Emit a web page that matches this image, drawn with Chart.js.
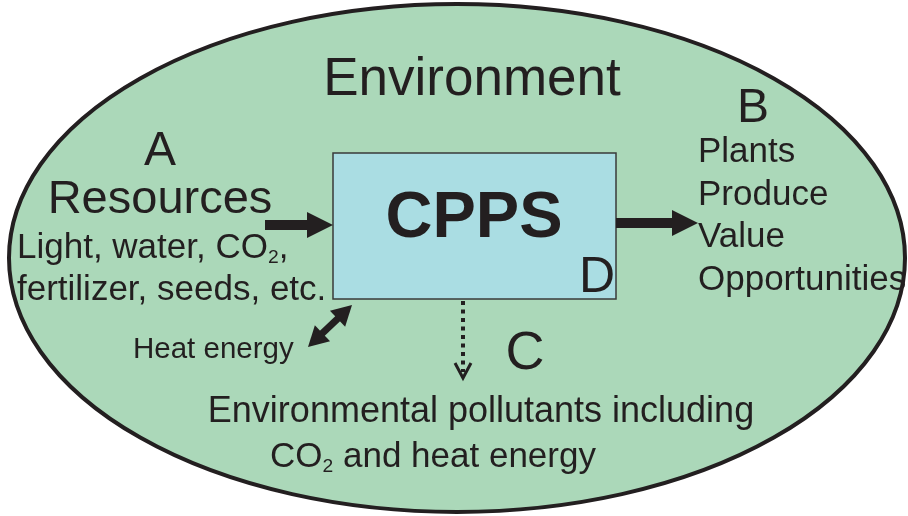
<!DOCTYPE html>
<html lang="en">
<head>
  <meta charset="UTF-8">
  <title>CPPS and its environment</title>
  <script src="https://cdn.jsdelivr.net/npm/chart.js"></script>
  <style>
    html, body {
      margin: 0;
      padding: 0;
      background: #fff;
    }
    .wrap {
      width: 908px;
      height: 516px;
    }
  </style>
</head>
<body>
  <div class="wrap"><canvas id="diagram"></canvas></div>

  <script>
    // text content of the diagram ("_2" marks a subscript 2)
    const titleText = 'Environment';
    const markers = ['A', 'B', 'C', 'D'];
    const systemLabel = 'CPPS';
    const resourceLines = ['Resources', 'Light, water, CO_2,', 'fertilizer, seeds, etc.'];
    const outputLines = ['Plants', 'Produce', 'Value', 'Opportunities'];
    const pollutantLines = ['Environmental pollutants including', 'CO_2 and heat energy'];
    const heatLabel = 'Heat energy';

    const ink = '#231f20';
    const FONT = '"Liberation Sans", Arial, Helvetica, sans-serif';

    // draws a line of text where "_2" becomes a small subscript
    function richText(ctx, str, x, y, size, align) {
      const parts = str.split(/(_\d)/).filter(p => p.length);
      const runs = parts.map(p => {
        const sub = p[0] === '_';
        const txt = sub ? p.slice(1) : p;
        ctx.font = (sub ? size * 0.55 : size) + 'px ' + FONT;
        return { txt, sub, w: ctx.measureText(txt).width };
      });
      const total = runs.reduce((s, r) => s + r.w, 0);
      let cx = align === 'center' ? x - total / 2 : x;
      ctx.textAlign = 'left';
      ctx.textBaseline = 'alphabetic';
      runs.forEach(r => {
        ctx.font = (r.sub ? size * 0.55 : size) + 'px ' + FONT;
        ctx.fillText(r.txt, cx, r.sub ? y + size * 0.14 : y);
        cx += r.w;
      });
    }

    function arrowHead(ctx, tipX, tipY, angle, len, half) {
      ctx.save();
      ctx.translate(tipX, tipY);
      ctx.rotate(angle);
      ctx.beginPath();
      ctx.moveTo(0, 0);
      ctx.lineTo(-len, -half);
      ctx.lineTo(-len, half);
      ctx.closePath();
      ctx.fill();
      ctx.restore();
    }

    const diagramPlugin = {
      id: 'diagram',
      afterDraw(chart) {
        const ctx = chart.ctx;
        const sx = chart.scales.x, sy = chart.scales.y;
        const X = v => sx.getPixelForValue(v);
        const Y = v => sy.getPixelForValue(v);
        const S = v => Math.abs(X(v) - X(0));

        ctx.save();

        // environment ellipse
        ctx.beginPath();
        ctx.ellipse(X(457), Y(258), S(448), S(254), 0, 0, Math.PI * 2);
        ctx.fillStyle = '#abd8b9';
        ctx.fill();
        ctx.lineWidth = 4;
        ctx.strokeStyle = ink;
        ctx.stroke();

        // CPPS box
        ctx.fillStyle = '#aadde3';
        ctx.fillRect(X(333), Y(153), S(283), S(146));
        ctx.lineWidth = 1.5;
        ctx.strokeStyle = '#3a3a3a';
        ctx.strokeRect(X(333), Y(153), S(283), S(146));

        ctx.fillStyle = ink;
        ctx.strokeStyle = ink;

        // input arrow
        ctx.fillRect(X(265), Y(220), S(45), S(10));
        arrowHead(ctx, X(333), Y(225), 0, S(26), S(13));

        // output arrow
        ctx.fillRect(X(616), Y(218), S(58), S(10));
        arrowHead(ctx, X(698), Y(223), 0, S(26), S(13));

        // heat energy double arrow
        const a1 = { x: X(352), y: Y(305) }, a2 = { x: X(308), y: Y(347) };
        const ang = Math.atan2(a2.y - a1.y, a2.x - a1.x);
        ctx.lineWidth = 7;
        ctx.beginPath();
        ctx.moveTo(a1.x + Math.cos(ang) * 14, a1.y + Math.sin(ang) * 14);
        ctx.lineTo(a2.x - Math.cos(ang) * 14, a2.y - Math.sin(ang) * 14);
        ctx.stroke();
        arrowHead(ctx, a2.x, a2.y, ang, S(20), S(11));
        arrowHead(ctx, a1.x, a1.y, ang + Math.PI, S(20), S(11));

        // dotted pollutant arrow
        ctx.lineWidth = 4;
        ctx.setLineDash([4, 4.5]);
        ctx.beginPath();
        ctx.moveTo(X(463), Y(301));
        ctx.lineTo(X(463), Y(372));
        ctx.stroke();
        ctx.setLineDash([]);
        ctx.lineWidth = 3;
        ctx.beginPath();
        ctx.moveTo(X(455), Y(363));
        ctx.lineTo(X(463), Y(378));
        ctx.lineTo(X(471), Y(363));
        ctx.stroke();

        // texts
        ctx.fillStyle = ink;
        richText(ctx, titleText, X(472), Y(95), 53, 'center');
        richText(ctx, markers[0], X(160), Y(165), 48, 'center');
        richText(ctx, resourceLines[0], X(160), Y(213), 47, 'center');
        richText(ctx, resourceLines[1], X(17), Y(258), 35, 'left');
        richText(ctx, resourceLines[2], X(17), Y(300), 35, 'left');
        richText(ctx, heatLabel, X(133), Y(358), 29.5, 'left');

        ctx.font = 'bold 65px ' + FONT;
        ctx.textAlign = 'center';
        ctx.fillText(systemLabel, X(474), Y(237));
        richText(ctx, markers[3], X(597), Y(292), 50, 'center');

        richText(ctx, markers[1], X(753), Y(122), 48, 'center');
        outputLines.forEach((t, i) => {
          richText(ctx, t, X(698), Y(162 + i * 42.7), 35, 'left');
        });

        richText(ctx, markers[2], X(525), Y(369), 54, 'center');
        richText(ctx, pollutantLines[0], X(481), Y(422), 36, 'center');
        richText(ctx, pollutantLines[1], X(433), Y(467), 35, 'center');

        ctx.restore();
      }
    };

    new Chart(document.getElementById('diagram'), {
      type: 'scatter',
      data: { datasets: [{ data: [], pointRadius: 0 }] },
      options: {
        responsive: true,
        maintainAspectRatio: false,
        animation: false,
        layout: { padding: 0 },
        plugins: { legend: { display: false }, tooltip: { enabled: false } },
        scales: {
          x: { type: 'linear', min: 0, max: 908, display: false },
          y: { type: 'linear', min: 0, max: 516, reverse: true, display: false }
        }
      },
      plugins: [diagramPlugin]
    });
  </script>
</body>
</html>
